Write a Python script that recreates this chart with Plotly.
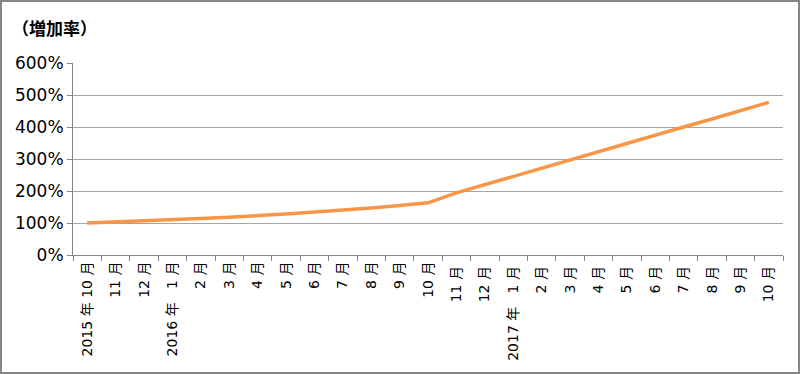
import plotly.graph_objects as go

FS = "\u2007"  # figure space to pad single-digit months
months = ["2015 年 10 月", "11 月", "12 月", "2016 年 " + FS + "1 月", FS + "2 月", FS + "3 月",
          FS + "4 月", FS + "5 月", FS + "6 月", FS + "7 月", FS + "8 月", FS + "9 月", "10 月",
          "11 月 ", "12 月 ", "2017 年 " + FS + "1 月 ", FS + "2 月 ", FS + "3 月 ", FS + "4 月 ",
          FS + "5 月 ", FS + "6 月 ", FS + "7 月 ", FS + "8 月 ", FS + "9 月 ", "10 月 "]
rate = [100, 103, 107, 110, 114, 118, 122, 128, 134, 140, 147, 155, 163,
        194, 220, 246, 272, 298, 323, 349, 374, 400, 425, 451, 477]
y_ticks = [0, 100, 200, 300, 400, 500, 600]
y_tick_text = [f"{v}%" for v in y_ticks]
title_text = "（増加率）"

W, H = 800, 374
L, R, T, B = 73, 17, 63, 119
pw, ph = W - L - R, H - T - B

font_family = "DejaVu Sans, Noto Sans CJK JP, sans-serif"

fig = go.Figure()
fig.add_trace(go.Scatter(
    x=months, y=rate, mode="lines",
    line=dict(color="#F79646", width=3.5),
    hoverinfo="skip", showlegend=False,
))

fig.update_layout(
    width=W, height=H,
    margin=dict(l=L, r=R, t=T, b=B, pad=0),
    paper_bgcolor="white", plot_bgcolor="white",
    font=dict(family=font_family, color="#000000"),
    xaxis=dict(
        type="category", tickangle=-90, tickson="boundaries",
        ticks="outside", ticklen=5, tickcolor="#868686", tickwidth=1,
        showline=True, linecolor="#868686", linewidth=1,
        showgrid=False, tickfont=dict(size=14, family=font_family),
        range=[-0.5, len(months) - 0.5],
    ),
    yaxis=dict(
        range=[0, 600], tickvals=y_ticks, ticktext=y_tick_text,
        ticks="outside", ticklen=5, tickcolor="#868686",
        showline=True, linecolor="#868686", linewidth=1,
        showgrid=True, gridcolor="#A6A6A6", gridwidth=1,
        zeroline=False, tickfont=dict(size=17, family=font_family),
    ),
)

fig.add_annotation(
    text="<b>" + title_text + "</b>", xref="paper", yref="paper",
    x=(10 - L) / pw, y=1 + (T - 29) / ph, xanchor="left", yanchor="middle",
    showarrow=False, font=dict(size=17, family=font_family, color="#000000"),
)

fig.add_shape(
    type="rect", xref="paper", yref="paper",
    x0=(1 - L) / pw, x1=1 + (R - 1) / pw,
    y0=-(B - 1) / ph, y1=1 + (T - 1) / ph,
    line=dict(color="#868686", width=2), fillcolor="rgba(0,0,0,0)",
    layer="below",
)

fig.write_html("out.html", config={"displayModeBar": False, "staticPlot": True})

with open("out.html", "r", encoding="utf-8") as f:
    html = f.read()
html = html.replace("<head>", "<head><style>html,body{margin:0;padding:0;overflow:hidden;}</style>", 1)
with open("out.html", "w", encoding="utf-8") as f:
    f.write(html)
